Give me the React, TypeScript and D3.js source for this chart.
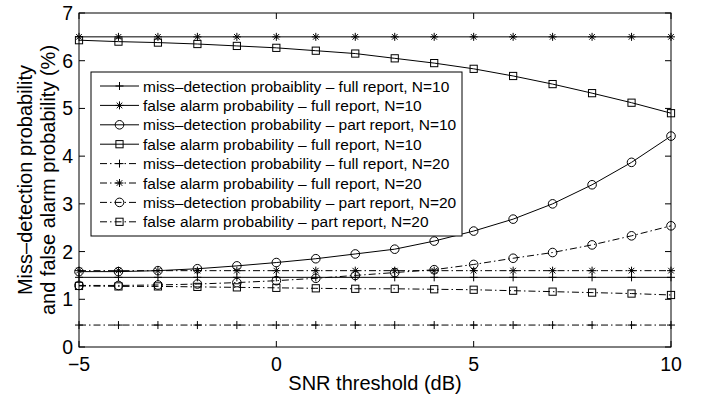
import React from "react";
import * as d3 from "d3";

const snr = [-5, -4, -3, -2, -1, 0, 1, 2, 3, 4, 5, 6, 7, 8, 9, 10];

const missFull10 = [1.46, 1.46, 1.46, 1.46, 1.46, 1.46, 1.46, 1.46, 1.46, 1.46, 1.46, 1.46, 1.46, 1.46, 1.46, 1.46];
const faFull10 = [6.5, 6.5, 6.5, 6.5, 6.5, 6.5, 6.5, 6.5, 6.5, 6.5, 6.5, 6.5, 6.5, 6.5, 6.5, 6.5];
const missPart10 = [1.58, 1.58, 1.6, 1.64, 1.7, 1.77, 1.85, 1.95, 2.05, 2.22, 2.43, 2.68, 3.0, 3.4, 3.87, 4.42];
const faPart10 = [6.43, 6.4, 6.38, 6.35, 6.31, 6.27, 6.21, 6.15, 6.05, 5.95, 5.83, 5.68, 5.51, 5.32, 5.12, 4.9];
const missFull20 = [0.46, 0.46, 0.46, 0.46, 0.46, 0.46, 0.46, 0.46, 0.46, 0.46, 0.46, 0.46, 0.46, 0.46, 0.46, 0.46];
const faFull20 = [1.6, 1.6, 1.6, 1.6, 1.6, 1.6, 1.6, 1.6, 1.6, 1.6, 1.6, 1.6, 1.6, 1.6, 1.6, 1.6];
const missPart20 = [1.29, 1.29, 1.3, 1.32, 1.35, 1.39, 1.44, 1.5, 1.56, 1.62, 1.73, 1.86, 1.98, 2.14, 2.33, 2.54];
const faPart20 = [1.28, 1.27, 1.27, 1.26, 1.25, 1.24, 1.23, 1.22, 1.22, 1.21, 1.2, 1.18, 1.16, 1.14, 1.12, 1.09];

const xTicks = [-5, 0, 5, 10];
const yTicks = [0, 1, 2, 3, 4, 5, 6, 7];

const seriesNames = [
  "miss\u2013detection probaiblity \u2013 full report, N=10",
  "false alarm probability \u2013 full report, N=10",
  "miss\u2013detection probability \u2013 part report, N=10",
  "false alarm probability \u2013 full report, N=10",
  "miss\u2013detection probability \u2013 full report, N=20",
  "false alarm probability \u2013 full report, N=20",
  "miss\u2013detection probability \u2013 part report, N=20",
  "false alarm probability \u2013 part report, N=20",
];
const seriesValues = [missFull10, faFull10, missPart10, faPart10, missFull20, faFull20, missPart20, faPart20];
const seriesMarkers = ["plus", "star", "circle", "square", "plus", "star", "circle", "square"];
const seriesDashed = [false, false, false, false, true, true, true, true];

const DASHDOT = "7,3,1.5,3";

function Marker({ type, x, y }: { type: string; x: number; y: number }) {
  const s = 4;
  const common = { stroke: "#000", strokeWidth: 1, fill: "none" };
  if (type === "plus") {
    return (
      <g {...common}>
        <line x1={x - s} x2={x + s} y1={y} y2={y} />
        <line x1={x} x2={x} y1={y - s} y2={y + s} />
      </g>
    );
  }
  if (type === "star") {
    const d = s * 0.7;
    return (
      <g {...common}>
        <line x1={x - s} x2={x + s} y1={y} y2={y} />
        <line x1={x} x2={x} y1={y - s} y2={y + s} />
        <line x1={x - d} x2={x + d} y1={y - d} y2={y + d} />
        <line x1={x - d} x2={x + d} y1={y + d} y2={y - d} />
      </g>
    );
  }
  if (type === "circle") {
    return <circle cx={x} cy={y} r={4.3} {...common} />;
  }
  return <rect x={x - 3.6} y={y - 3.6} width={7.2} height={7.2} {...common} />;
}

export default function App() {
  const W = 706;
  const H = 401;
  const left = 79;
  const right = 671;
  const top = 13;
  const bottom = 347;
  const x = d3.scaleLinear().domain([-5, 10]).range([left, right]);
  const y = d3.scaleLinear().domain([0, 7]).range([bottom, top]);
  const line = d3
    .line<number>()
    .x((_, i) => x(snr[i]))
    .y((v) => y(v));

  const font = "'Liberation Sans', Arial, Helvetica, sans-serif";
  const tickLen = 6;

  const legX = 91;
  const legY = 72;
  const legW = 371;
  const legH = 164;
  const rowH = 19.4;
  const row0 = 86;

  return (
    <div style={{ position: "absolute", left: 0, top: 0 }}>
      <svg width={W} height={H} style={{ display: "block", background: "#fff" }} fontFamily={font}>
        <rect x={0} y={0} width={W} height={H} fill="#fff" />
        <defs>
          <clipPath id="plotClip">
            <rect x={left} y={top} width={right - left} height={bottom - top} />
          </clipPath>
        </defs>
        {/* ticks */}
        {xTicks.map((t) => (
          <g key={"xt" + t}>
            <line x1={x(t)} x2={x(t)} y1={bottom} y2={bottom - tickLen} stroke="#000" />
            <line x1={x(t)} x2={x(t)} y1={top} y2={top + tickLen} stroke="#000" />
            <text x={x(t)} y={bottom + 23.5} fontSize={19.5} textAnchor="middle">
              {t < 0 ? "\u2212" + Math.abs(t) : t}
            </text>
          </g>
        ))}
        {yTicks.map((t) => (
          <g key={"yt" + t}>
            <line x1={left} x2={left + tickLen} y1={y(t)} y2={y(t)} stroke="#000" />
            <line x1={right} x2={right - tickLen} y1={y(t)} y2={y(t)} stroke="#000" />
            <text x={left - 6} y={y(t) + 7} fontSize={19.5} textAnchor="end">
              {t}
            </text>
          </g>
        ))}
        {/* series */}
        <g clipPath="url(#plotClip)">
          {seriesValues.map((vals, si) => (
            <path
              key={"l" + si}
              d={line(vals) || ""}
              fill="none"
              stroke="#000"
              strokeWidth={1}
              strokeDasharray={seriesDashed[si] ? DASHDOT : undefined}
            />
          ))}
        </g>
        {seriesValues.map((vals, si) => (
          <g key={"m" + si}>
            {vals.map((v, i) => (
              <Marker key={i} type={seriesMarkers[si]} x={x(snr[i])} y={y(v)} />
            ))}
          </g>
        ))}
        {/* axes box */}
        <rect x={left} y={top} width={right - left} height={bottom - top} fill="none" stroke="#000" strokeWidth={1} />
        {/* legend */}
        <rect x={legX} y={legY} width={legW} height={legH} fill="#fff" stroke="#000" strokeWidth={1} />
        {seriesNames.map((name, si) => {
          const ry = row0 + si * rowH;
          return (
            <g key={"lg" + si}>
              <line
                x1={100}
                x2={139}
                y1={ry}
                y2={ry}
                stroke="#000"
                strokeDasharray={seriesDashed[si] ? DASHDOT : undefined}
              />
              <Marker type={seriesMarkers[si]} x={119.5} y={ry} />
              <text x={143} y={ry + 5.5} fontSize={15.5}>
                {name}
              </text>
            </g>
          );
        })}
        {/* axis labels */}
        <text x={(left + right) / 2} y={390} fontSize={20} textAnchor="middle">
          SNR threshold (dB)
        </text>
        <text transform={`translate(32,${(top + bottom) / 2}) rotate(-90)`} fontSize={20} textAnchor="middle">
          Miss{"\u2013"}detection probability
        </text>
        <text transform={`translate(55,${(top + bottom) / 2}) rotate(-90)`} fontSize={20} textAnchor="middle">
          and false alarm probability (%)
        </text>
      </svg>
    </div>
  );
}
